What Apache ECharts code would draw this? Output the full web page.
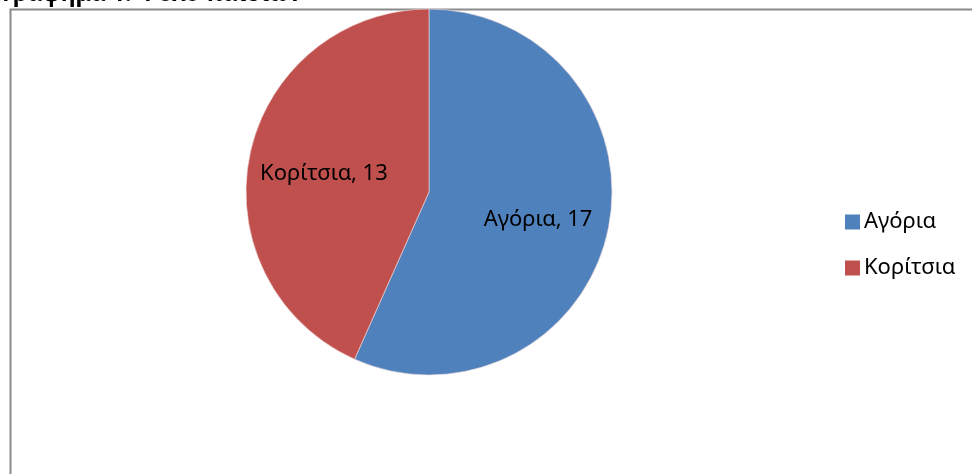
<!DOCTYPE html>
<html>
<head>
<meta charset="utf-8">
<script src="https://cdn.jsdelivr.net/npm/echarts@6/dist/echarts.min.js"></script>
<style>
  html, body { margin: 0; padding: 0; background: #fff; }
  #chart { width: 972px; height: 474px; }
</style>
</head>
<body>
<div id="chart"></div>
<script>
  // Φύλο παιδιών
  var categories = ['Αγόρια', 'Κορίτσια'];
  var values = [17, 13];
  var colors = ['#4F81BD', '#C0504D'];
  var titleText = 'Γράφημα 1: Φύλο παιδιών';

  var pieData = categories.map(function (name, i) {
    return { name: name, value: values[i], itemStyle: { color: colors[i] } };
  });

  var chart = echarts.init(document.getElementById('chart'));
  var font = '"Noto Sans", sans-serif';

  var option = {
    backgroundColor: '#fff',
    animation: false,
    graphic: [
      {
        type: 'rect',
        shape: { x: 10.5, y: 9.5, width: 1000, height: 600 },
        style: { fill: 'none', stroke: '#8a8a8a', lineWidth: 2 },
        z: 0
      },
      {
        type: 'text',
        left: 2,
        top: -17,
        style: { text: titleText, font: 'bold 23px ' + font, fill: '#000' }
      }
    ],
    legend: {
      orient: 'vertical',
      left: 840,
      top: 206,
      itemWidth: 15,
      itemHeight: 15,
      itemGap: 24,
      icon: 'rect',
      data: categories,
      itemStyle: { borderWidth: 0 },
      textStyle: { fontFamily: font, fontSize: 22, color: '#000', padding: [0, 0, 0, -1] }
    },
    series: [
      {
        // πίτα χωρίς ετικέτες
        type: 'pie',
        center: [429, 192],
        radius: 183,
        startAngle: 90,
        clockwise: true,
        silent: true,
        label: { show: false },
        labelLine: { show: false },
        itemStyle: { borderColor: '#f2dcdb', borderWidth: 0.6 },
        data: pieData
      },
      {
        // μόνο οι ετικέτες, λίγο πιο έξω από το μέσο
        type: 'pie',
        center: [429, 192],
        radius: [30, 183],
        startAngle: 90,
        clockwise: true,
        silent: true,
        legendHoverLink: false,
        itemStyle: { color: 'transparent' },
        label: {
          show: true,
          position: 'inside',
          formatter: '{b}, {c}',
          fontFamily: font,
          fontSize: 22,
          color: '#000',
          offset: [2, 5]
        },
        labelLine: { show: false },
        data: categories.map(function (name, i) { return { name: name, value: values[i] }; })
      }
    ]
  };

  chart.setOption(option);
</script>
</body>
</html>
